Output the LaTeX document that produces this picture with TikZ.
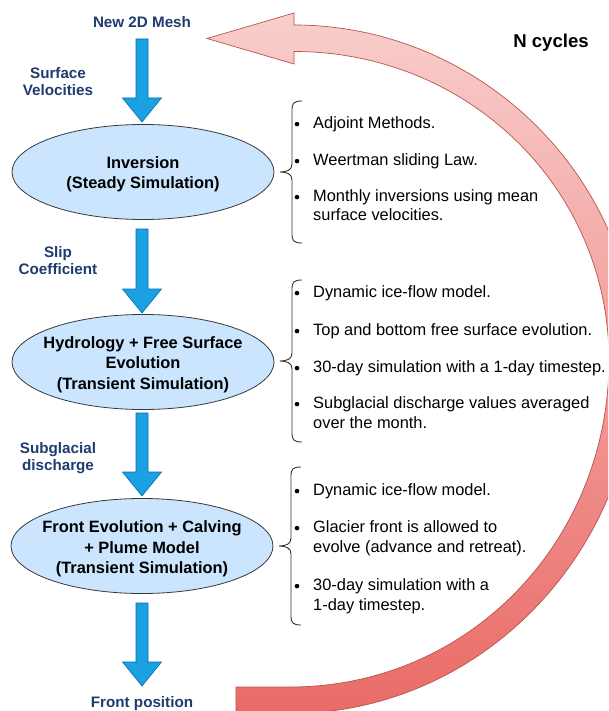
\documentclass[tikz,border=0pt]{standalone}
\usepackage{fontspec}
\setmainfont{Liberation Sans}
\usetikzlibrary{shapes.geometric,calc}
\definecolor{lblblue}{HTML}{1F3C6E}
\definecolor{ellfill}{HTML}{CCE5FF}
\definecolor{ellline}{HTML}{36393D}
\definecolor{arrfill}{HTML}{1BA1E2}
\definecolor{arrline}{HTML}{006EAF}
\definecolor{cyctop}{HTML}{F8CECC}
\definecolor{cycbot}{HTML}{EA6B66}
\definecolor{cycline}{HTML}{B85450}
\definecolor{bracecol}{HTML}{333333}
\tikzset{
  lbl/.style={font=\fontsize{15.2}{17.5}\selectfont\bfseries, text=lblblue, align=center, inner sep=0pt},
  stage/.style={ellipse, draw=ellline, fill=ellfill, line width=0.8pt, minimum width=262pt, minimum height=95pt, inner sep=0pt},
  stagetxt/.style={inner sep=0pt, align=center, font=\fontsize{16.4}{20.3}\selectfont\bfseries},
  itm/.style={anchor=base west, inner sep=0pt, font=\fontsize{16.4}{19}\selectfont},
  barrow/.style={fill=arrfill, draw=arrline, line width=0.6pt},
  bracestyle/.style={draw=bracecol, line width=0.9pt},
  cycarrow/.style={draw=cycline, line width=0.7pt, top color=cyctop, bottom color=cycbot},
}
\newcommand\flowarrow[2]{%
  \path[barrow] let \p1=(#1), \p2=(#2) in
    (\x1-6pt,\y1) -- (\x1+6pt,\y1) -- (\x1+6pt,\y2+24pt) -- (\x1+19.5pt,\y2+24pt)
    -- (\x1,\y2) -- (\x1-19.5pt,\y2+24pt) -- (\x1-6pt,\y2+24pt) -- cycle;}
\newcommand\curlyb[3]{%
  \draw[bracestyle] ({#1+10},#2) .. controls ({#1+2},#2) and (#1,{#2+2}) .. (#1,{#2+9})
    -- (#1,{(#2+#3)/2-8}) .. controls (#1,{(#2+#3)/2-2}) and ({#1-5},{(#2+#3)/2}) .. ({#1-12},{(#2+#3)/2})
    .. controls ({#1-5},{(#2+#3)/2}) and (#1,{(#2+#3)/2+2}) .. (#1,{(#2+#3)/2+8})
    -- (#1,{#3-9}) .. controls (#1,{#3-2}) and ({#1+2},#3) .. ({#1+10},#3);}
\newcommand\bul[1]{\fill (297,{#1-4.4}) circle (2.3);}
\begin{document}
\begin{tikzpicture}[x=1pt,y=-1pt]
\useasboundingbox (0,0) rectangle (608,711);
\clip (0,0) rectangle (608,711);
\fill[white] (0,0) rectangle (608,711);

% big cycle arrow
\path[cycarrow] (236,713.5) -- (290,713.5) .. controls (482,713.5) and (636,550) .. (636,360)
  .. controls (636,180) and (482,25) .. (294,25) -- (294,13) -- (207,38.5) -- (294,64) -- (294,51.5)
  .. controls (470,51.5) and (609,190) .. (609,360)
  .. controls (609,540) and (470,687) .. (290,687) -- (236,687) -- cycle;
\node[font=\fontsize{18.6}{22}\selectfont\bfseries, inner sep=0pt] (ncyc) at (551,43) {N cycles};

% labels
\node[lbl] (mesh) at (142,22) {New 2D Mesh};
\node[lbl] (surf) at (58,81.5) {Surface\\Velocities};
\node[lbl] (slip) at (58,260.5) {Slip\\Coefficient};
\node[lbl] (subq) at (58,458) {Subglacial\\discharge};
\node[lbl] (front) at (142,704) {Front position};

% stages
\node[stage] (inv) at (143,172) {};
\node[stagetxt] (invt) at (143,174.5) {Inversion\\(Steady Simulation)};
\node[stage] (hyd) at (143,362) {};
\node[stagetxt] (hydt) at (143,364.5) {Hydrology + Free Surface\\Evolution\\(Transient Simulation)};
\node[stage] (fro) at (142,546) {};
\node[stagetxt] (frot) at (142,549) {Front Evolution + Calving\\+ Plume Model\\(Transient Simulation)};

% blue arrows
\coordinate (a1s) at (142,39);  \coordinate (a1e) at (142,122);
\coordinate (a2s) at (142,229); \coordinate (a2e) at (142,313);
\coordinate (a3s) at (142,413); \coordinate (a3e) at (142,496);
\coordinate (a4s) at (142,603); \coordinate (a4e) at (142,686);
\flowarrow{a1s}{a1e}
\flowarrow{a2s}{a2e}
\flowarrow{a3s}{a3e}
\flowarrow{a4s}{a4e}

% braces
\curlyb{292}{101}{243}
\curlyb{292}{280}{442}
\curlyb{291}{467}{625}

% list 1
\bul{128.5}\node[itm] (l1a) at (313,128.5) {Adjoint Methods.};
\bul{165.5}\node[itm] (l1b) at (313,165.5) {Weertman sliding Law.};
\bul{201.5}\node[itm] (l1c) at (313,201.5) {Monthly inversions using mean};
\node[itm] (l1d) at (313,220.5) {surface velocities.};

% list 2
\bul{297.5}\node[itm] (l2a) at (313,297.5) {Dynamic ice-flow model.};
\bul{335.5}\node[itm] (l2b) at (313,335.5) {Top and bottom free surface evolution.};
\bul{372.5}\node[itm] (l2c) at (313,372.5) {30-day simulation with a 1-day timestep.};
\bul{408.5}\node[itm] (l2d) at (313,408.5) {Subglacial discharge values averaged};
\node[itm] (l2e) at (313,428.5) {over the month.};

% list 3
\bul{495.5}\node[itm] (l3a) at (313,495.5) {Dynamic ice-flow model.};
\bul{532.5}\node[itm] (l3b) at (313,532.5) {Glacier front is allowed to};
\node[itm] (l3c) at (313,552.5) {evolve (advance and retreat).};
\bul{590.5}\node[itm] (l3d) at (313,590.5) {30-day simulation with a};
\node[itm] (l3e) at (313,610.5) {1-day timestep.};
\end{tikzpicture}
\end{document}
